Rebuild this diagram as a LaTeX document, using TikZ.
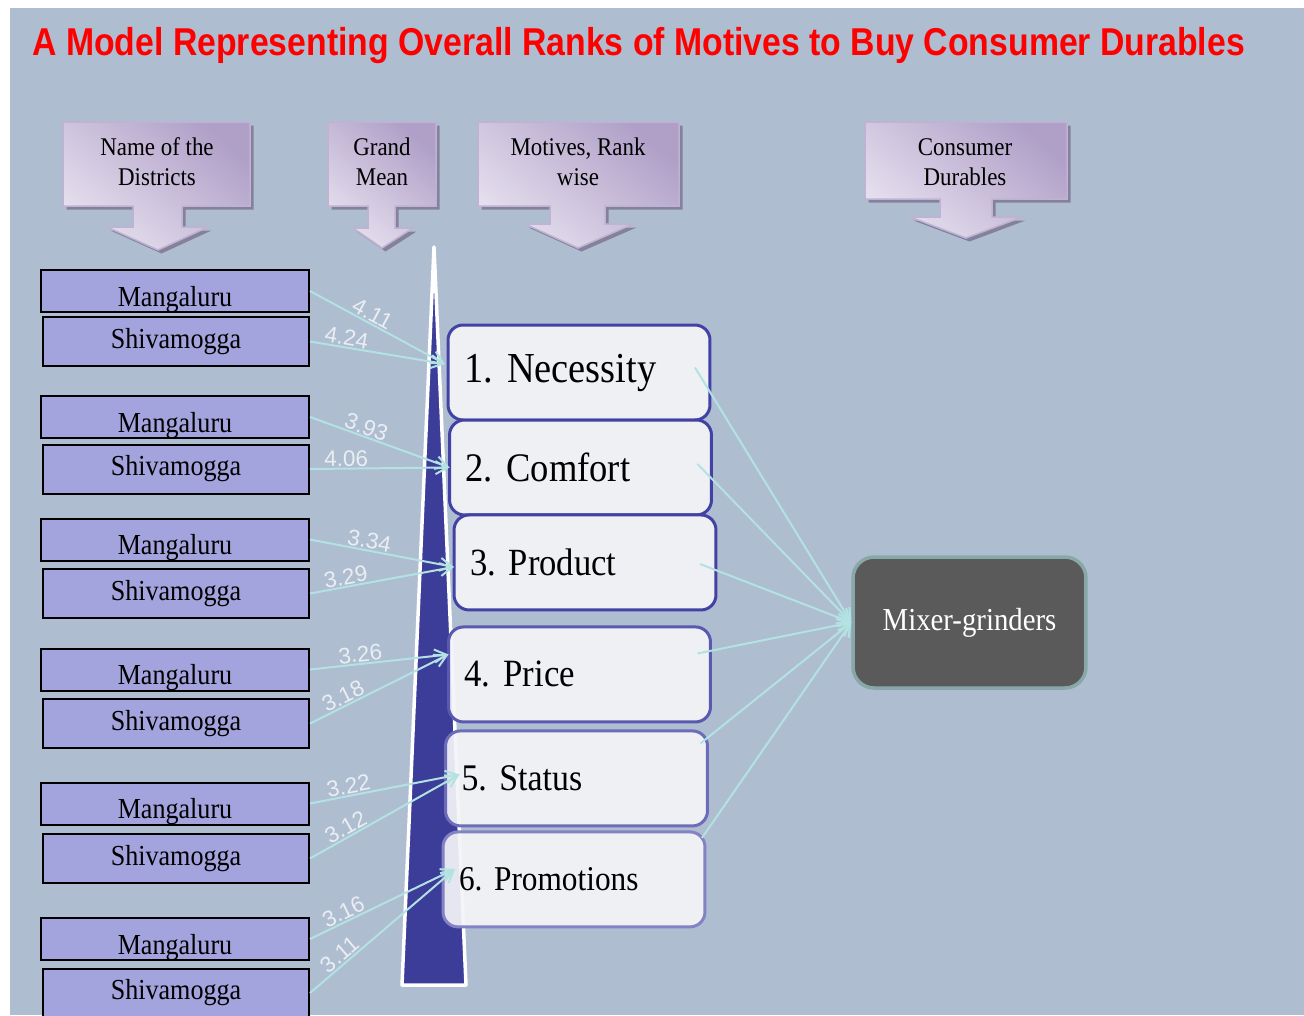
\documentclass[tikz,border=0pt]{standalone}
\usepackage{fontspec}
\setmainfont{Liberation Serif}[FakeStretch=0.9]
\newfontfamily\titlefont{Liberation Sans}[FakeStretch=0.87]
\newfontfamily\numfont{Liberation Sans}
\usepackage{tikz}
\usetikzlibrary{shapes,arrows,arrows.meta,positioning,calc,shadows}
\usepackage{xcolor}
\definecolor{slatebg}{RGB}{175,189,209}
\definecolor{titlered}{RGB}{255,0,0}
\definecolor{distfill}{RGB}{163,163,222}
\definecolor{motivefill}{RGB}{244,245,248}
\definecolor{motiveline}{RGB}{66,66,165}
\definecolor{wedgeblue}{RGB}{60,60,153}
\definecolor{mixfill}{RGB}{90,90,90}
\definecolor{mixline}{RGB}{136,168,168}
\definecolor{linkcyan}{RGB}{178,226,226}
\definecolor{numwhite}{RGB}{234,238,242}
\definecolor{calloutlight}{RGB}{230,224,238}
\definecolor{calloutdark}{RGB}{176,160,200}
\definecolor{calloutline}{RGB}{192,178,212}
\definecolor{calloutshadow}{RGB}{128,124,150}

\begin{document}
\begin{tikzpicture}[
    x=0.02cm, y=-0.02cm,
    callout/.style={draw=calloutline, line width=0.03cm, top color=calloutdark, bottom color=calloutlight, shading angle=-40,
        drop shadow={shadow xshift=0.07cm, shadow yshift=-0.07cm, fill=calloutshadow, opacity=0.9}},
    head/.style={align=center, inner sep=0pt, font=\fontsize{14.5}{17}\selectfont},
    dist/.style={draw=black, line width=0.04cm, fill=distfill, inner sep=0pt, font=\fontsize{16.5}{19}\selectfont},
    mang/.style={dist, minimum width=5.36cm, text height=0.72cm, text depth=0.12cm},
    shiv/.style={dist, minimum width=5.32cm, minimum height=0.98cm},
    motive/.style={rounded corners=0.3cm, draw=motiveline, line width=0.06cm, fill=motivefill, fill opacity=0.92, text opacity=1,
        outer sep=0pt, minimum height=1.9cm, text width=4.6cm, inner xsep=0.32cm, align=left},
    mixer/.style={rounded corners=0.42cm, draw=mixline, line width=0.07cm, fill=mixfill, text=white,
        minimum width=4.66cm, minimum height=2.62cm, font=\fontsize{18.2}{22}\selectfont},
    link/.style={-{Straight Barb[length=0.24cm, width=0.26cm]}, draw=linkcyan, line width=0.04cm},
    num/.style={sloped, above, inner sep=0.5pt, text=numwhite, font=\numfont\fontsize{12.8}{15}\selectfont}
]
    % Background and title
    \useasboundingbox (0,0) rectangle (1304,1015);
    \fill[slatebg] (10,8) rectangle (1304,1015);
    \node[anchor=base west, inner sep=0pt, text=titlered, font=\titlefont\bfseries\fontsize{22.1}{26}\selectfont] (title) at (32,55)
        {A Model Representing Overall Ranks of Motives to Buy Consumer Durables};

    % Column headers
    \shade[callout] (63,122) -- (250,122) -- (250,206) -- (182,206) -- (182,227) -- (208,227) -- (158,250)
        -- (107,227) -- (133,227) -- (133,206) -- (63,206) -- cycle;
    \node[head] (hdist) at (157,162) {Name of the\\Districts};
    \shade[callout] (328,122) -- (436,122) -- (436,206) -- (395,206) -- (395,228) -- (413,228) -- (382,248)
        -- (353,228) -- (368,228) -- (368,206) -- (328,206) -- cycle;
    \node[head] (hmean) at (382,162) {Grand\\Mean};
    \shade[callout] (478,122) -- (679,122) -- (679,206) -- (605,206) -- (605,224) -- (633,224) -- (578,248)
        -- (525,224) -- (550,224) -- (550,206) -- (478,206) -- cycle;
    \node[head] (hmotive) at (578,162) {Motives, Rank\\wise};
    \shade[callout] (865,122) -- (1067,122) -- (1067,199) -- (992,199) -- (992,217) -- (1022,217) -- (966,238)
        -- (910,217) -- (940,217) -- (940,199) -- (865,199) -- cycle;
    \node[head] (hdurable) at (965,162) {Consumer\\Durables};

    % Grand mean wedge
    \draw[white, line width=0.07cm, line join=round, fill=wedgeblue] (434,247) -- (466,985) -- (402,985) -- cycle;

    % Motives, rank wise
    \node[motive, font=\fontsize{24.3}{28}\selectfont] (nec) at (579,372.5) {1.\ Necessity};
    \node[motive, below=0cm of nec, xshift=0.03cm, font=\fontsize{23.1}{27}\selectfont] (com) {2.\ Comfort};
    \node[motive, below=0cm of com, xshift=0.09cm, font=\fontsize{21.9}{26}\selectfont] (pro) {3.\ Product};
    \node[motive, below=0.34cm of pro, xshift=-0.11cm, draw=motiveline!88!white, font=\fontsize{22}{26}\selectfont] (pri) {4.\ Price};
    \node[motive, below=0.18cm of pri, xshift=-0.06cm, draw=motiveline!78!white, font=\fontsize{21.4}{25}\selectfont] (sta) {5.\ Status};
    \node[motive, below=0.12cm of sta, xshift=-0.05cm, draw=motiveline!66!white, font=\fontsize{19.8}{24}\selectfont] (prm) {6.\ Promotions};

    % Districts
    \node[mang] (m1) at (175,291) {Mangaluru};
    \node[shiv] (s1) at (176,341.5) {Shivamogga};
    \node[mang] (m2) at (175,417) {Mangaluru};
    \node[shiv] (s2) at (176,469) {Shivamogga};
    \node[mang] (m3) at (175,539.5) {Mangaluru};
    \node[shiv] (s3) at (176,593.5) {Shivamogga};
    \node[mang] (m4) at (175,669.5) {Mangaluru};
    \node[shiv] (s4) at (176,723.5) {Shivamogga};
    \node[mang] (m5) at (175,803.5) {Mangaluru};
    \node[shiv] (s5) at (176,858.5) {Shivamogga};
    \node[mang] (m6) at (175,939) {Mangaluru};
    \node[shiv] (s6) at (176,993) {Shivamogga};

    % Consumer durable
    \node[mixer] (mix) at (969.5,622.5) {Mixer-grinders};

    % Grand means into motives
    \draw[link] (m1.east) -- node[num, pos=0.43] {4.11} ([xshift=-0.06cm, yshift=0.17cm]nec.west);
    \draw[link] (s1.east) -- node[num, pos=0.26] {4.24} ([xshift=-0.06cm, yshift=0.17cm]nec.west);
    \draw[link] (m2.east) -- node[num, pos=0.38] {3.93} (com.west);
    \draw[link] (s2.east) -- node[num, pos=0.26] {4.06} (com.west);
    \draw[link] (m3.east) -- node[num, pos=0.4] {3.34} ([yshift=-0.09cm]pro.west);
    \draw[link] (s3.east) -- node[num, pos=0.26] {3.29} ([yshift=-0.09cm]pro.west);
    \draw[link] (m4.east) -- node[num, pos=0.37] {3.26} ([yshift=0.4cm]pri.west);
    \draw[link] (s4.east) -- node[num, pos=0.27] {3.18} ([yshift=0.4cm]pri.west);
    \draw[link] (m5.east) -- node[num, pos=0.27] {3.22} ([xshift=0.28cm, yshift=0.08cm]sta.west);
    \draw[link] (s5.east) -- node[num, pos=0.27] {3.12} ([xshift=0.28cm, yshift=0.08cm]sta.west);
    \draw[link] (m6.east) -- node[num, pos=0.26] {3.16} ([xshift=0.24cm, yshift=0.21cm]prm.west);
    \draw[link] (s6.east) -- node[num, pos=0.25] {3.11} ([xshift=0.24cm, yshift=0.21cm]prm.west);

    % Motives into the durable
    \draw[link] ([xshift=-0.3cm, yshift=0.1cm]nec.east) -- (mix.west);
    \draw[link] ([xshift=-0.28cm, yshift=0.07cm]com.east) -- (mix.west);
    \draw[link] ([xshift=-0.32cm, yshift=-0.03cm]pro.east) -- (mix.west);
    \draw[link] ([xshift=-0.26cm, yshift=0.42cm]pri.east) -- (mix.west);
    \draw[link] ([xshift=-0.14cm, yshift=0.7cm]sta.east) -- (mix.west);
    \draw[link] ([xshift=-0.06cm, yshift=0.83cm]prm.east) -- (mix.west);
\end{tikzpicture}
\end{document}
